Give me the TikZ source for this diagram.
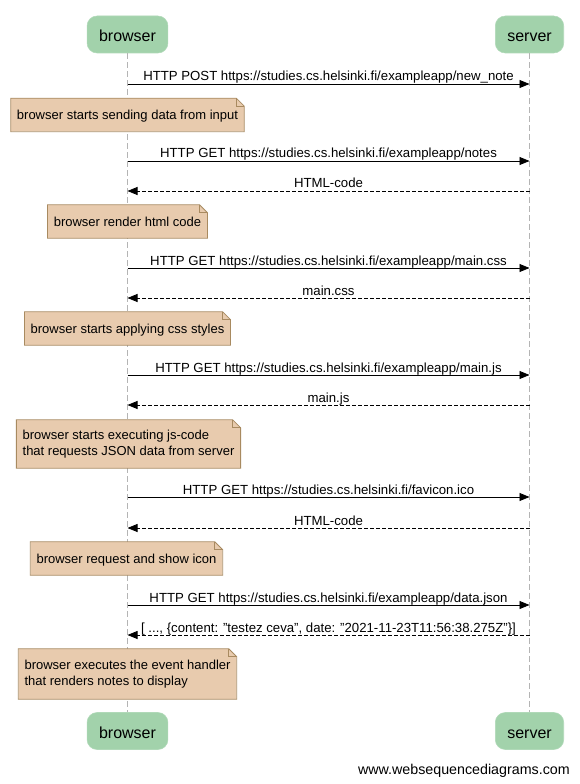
\documentclass[tikz,border=0pt]{standalone}
\usepackage{fontspec}
\setmainfont{Liberation Sans}
\usetikzlibrary{arrows.meta,calc}
\definecolor{partfill}{HTML}{A2D2AB}
\definecolor{notefill}{HTML}{E8CBAE}
\definecolor{notedraw}{HTML}{A88A60}
\definecolor{lifegray}{HTML}{B4B4B4}
\newcommand\wsdnote[1]{%
  \fill[white] ($(#1.north east)+(-8,0)$) -- (#1.north east) -- ($(#1.north east)+(0,8)$) -- cycle;
  \draw[notedraw, line width=0.6pt] (#1.south west) -- (#1.north west) -- ($(#1.north east)+(-8,0)$) -- ($(#1.north east)+(0,8)$) -- (#1.south east) -- cycle;
  \draw[notedraw, line width=0.6pt] ($(#1.north east)+(-8,0)$) -- ($(#1.north east)+(-8,8)$) -- ($(#1.north east)+(0,8)$);}
\begin{document}
\begin{tikzpicture}[x=0.75pt,y=-0.75pt,
  part/.style={fill=partfill, draw=partfill!85!white, rounded corners=7.5pt, inner xsep=9pt, inner ysep=0pt, text height=11pt, text depth=0pt, minimum height=27.75pt, font=\fontsize{12pt}{14pt}\selectfont},
  life/.style={draw=lifegray, line width=0.6pt, dash pattern=on 4.5pt off 2.25pt},
  msg/.style={draw=black, line width=0.6pt, -{Triangle[length=7.5pt,width=6pt]}},
  ret/.style={msg, dash pattern=on 3pt off 1.5pt},
  lbl/.style={midway, anchor=base, yshift=2.25pt, inner sep=0pt, font=\fontsize{9.9pt}{12pt}\selectfont},
  notebox/.style={fill=notefill, inner xsep=4.5pt, inner ysep=0pt, minimum height=24.75pt, align=left, font=\fontsize{9.75pt}{12pt}\selectfont},
  note1/.style={notebox, text height=7.3pt, text depth=0pt}
]
\fill[white] (0,0) rectangle (579,784);
\useasboundingbox (0,0) rectangle (579,784);

\node[part] (bt) at (127.5,34.5) {browser};
\node[part] (st) at (529.5,34.5) {server};
\node[part] (bb) at (127.5,731) {browser};
\node[part] (sb) at (529.5,731) {server};

\draw[life] (bt.south) -- (bb.north);
\draw[life] (st.south) -- (sb.north);

% message endpoints
\foreach \n/\y in {1/84,2/161,3/191,4/268,5/298,6/375,7/405,8/497,9/528,10/605,11/635}{
  \coordinate (b\n) at (127.5,\y);
  \coordinate (s\n) at (529.5,\y);
}

\draw[msg] (b1) -- node[lbl]{HTTP POST https://studies.cs.helsinki.fi/exampleapp/new\_note} (s1);

\node[note1] (n1) at (127.5,115) {browser starts sending data from input};
\wsdnote{n1}

\draw[msg] (b2) -- node[lbl]{HTTP GET https://studies.cs.helsinki.fi/exampleapp/notes} (s2);
\draw[ret] (s3) -- node[lbl]{HTML-code} (b3);

\node[note1] (n2) at (127.5,221.5) {browser render html code};
\wsdnote{n2}

\draw[msg] (b4) -- node[lbl]{HTTP GET https://studies.cs.helsinki.fi/exampleapp/main.css} (s4);
\draw[ret] (s5) -- node[lbl]{main.css} (b5);

\node[note1] (n3) at (127.5,328.5) {browser starts applying css styles};
\wsdnote{n3}

\draw[msg] (b6) -- node[lbl]{HTTP GET https://studies.cs.helsinki.fi/exampleapp/main.js} (s6);
\draw[ret] (s7) -- node[lbl]{main.js} (b7);

\node[notebox, minimum height=36pt] (n4) at (128.5,444) {browser starts executing js-code\\that requests JSON data from server};
\wsdnote{n4}

\draw[msg] (b8) -- node[lbl]{HTTP GET https://studies.cs.helsinki.fi/favicon.ico} (s8);
\draw[ret] (s9) -- node[lbl]{HTML-code} (b9);

\node[note1] (n5) at (126.5,558.5) {browser request and show icon};
\wsdnote{n5}

\draw[msg] (b10) -- node[lbl]{HTTP GET https://studies.cs.helsinki.fi/exampleapp/data.json} (s10);
\draw[ret] (s11) -- node[lbl]{[ ..., \{content: "testez ceva", date: "2021-11-23T11:56:38.275Z"\}]} (b11);

\node[notebox, minimum height=37.5pt] (n6) at (127.5,674) {browser executes the event handler\\that renders notes to display};
\wsdnote{n6}

\node[anchor=base east, inner sep=0pt, font=\fontsize{10.7pt}{13pt}\selectfont] (wsd) at (570,774) {www.websequencediagrams.com};
\end{tikzpicture}
\end{document}
